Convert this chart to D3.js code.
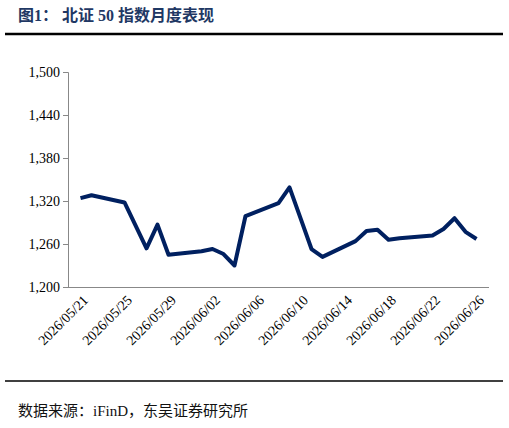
<!DOCTYPE html>
<html><head><meta charset="utf-8">
<script src="https://cdn.jsdelivr.net/npm/d3@7"></script>
<style>body{margin:0;background:#fff}</style></head>
<body><svg id="c" width="509" height="428"></svg>
<script>
const dates = ["2026-05-21","2026-05-22","2026-05-25","2026-05-26","2026-05-27","2026-05-28","2026-05-29","2026-06-01","2026-06-02","2026-06-03","2026-06-04","2026-06-05","2026-06-08","2026-06-09","2026-06-10","2026-06-11","2026-06-12","2026-06-15","2026-06-16","2026-06-17","2026-06-18","2026-06-19","2026-06-22","2026-06-23","2026-06-24","2026-06-25","2026-06-26"];
const values = [1324,1328,1318,1286,1254,1287,1245,1250,1253,1246,1230,1299,1317,1339,1296,1253,1242,1264,1278,1280,1266,1268,1272,1281,1296,1277,1267];
const yTicks = [1200,1260,1320,1380,1440,1500];
const tickDates = ["2026-05-21","2026-05-25","2026-05-29","2026-06-02","2026-06-06","2026-06-10","2026-06-14","2026-06-18","2026-06-22","2026-06-26"];
const parse = d3.timeParse("%Y-%m-%d"), fmt = d3.timeFormat("%Y/%m/%d");
const svg = d3.select("#c");
const serif = "'Liberation Serif','Times New Roman',serif";
svg.append("text").attr("x",18).attr("y",21).attr("fill","#1f3864").attr("font-weight","bold")
  .attr("font-size",16).attr("font-family",serif+",'Noto Sans CJK SC'").text("图1：  北证 50 指数月度表现");
svg.append("line").attr("x1",5).attr("x2",503).attr("y1",34).attr("y2",34).attr("stroke","#000").attr("stroke-width",2.5);
svg.append("line").attr("x1",5).attr("x2",503).attr("y1",381).attr("y2",381).attr("stroke","#000").attr("stroke-width",1.5);
svg.append("text").attr("x",18).attr("y",416).attr("font-size",15).attr("font-family",serif+",'Noto Sans CJK SC'").attr("fill","#111").text("数据来源：iFinD，东吴证券研究所");
const x = d3.scaleTime().domain([parse(dates[0]),parse(dates[dates.length-1])]).range([80.5,476.5]);
const y = d3.scaleLinear().domain([1200,1500]).range([287,72]);
const ya = svg.append("g").attr("transform","translate(68,0)").call(d3.axisLeft(y).tickValues(yTicks).tickSize(5).tickFormat(d3.format(",")));
ya.selectAll("text").attr("font-family",serif).attr("font-size",14).attr("fill","#000");
ya.selectAll("line,path").attr("stroke","#888");
const xa = svg.append("g").attr("transform","translate(0,287)").call(d3.axisBottom(x).tickValues(tickDates.map(parse)).tickSize(0).tickFormat(fmt));
xa.select("path").attr("d","M68,0.5H489").attr("stroke","#888");
xa.selectAll("text").attr("font-family",serif).attr("font-size",14).attr("fill","#000")
  .attr("text-anchor","end").attr("transform","rotate(-45)").attr("dx","-0.3em").attr("dy","0.9em");
svg.append("path").datum(dates.map((d,i)=>[parse(d),values[i]]))
  .attr("fill","none").attr("stroke","#002060").attr("stroke-width",4).attr("stroke-linejoin","round")
  .attr("d",d3.line().x(d=>x(d[0])).y(d=>y(d[1])));
</script></body></html>
